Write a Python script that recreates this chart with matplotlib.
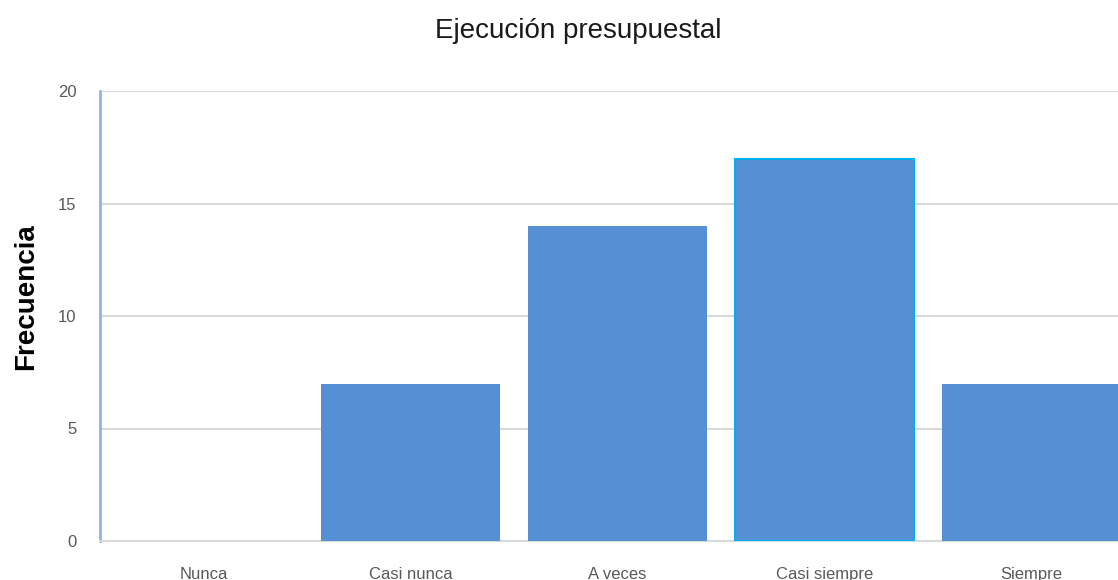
import matplotlib.pyplot as plt

categorias = ["Nunca", "Casi nunca", "A veces", "Casi siempre", "Siempre"]
frecuencias = [0, 7, 14, 17, 7]
yticks = [0, 5, 10, 15, 20]

plt.rcParams['font.family'] = ['Liberation Sans', 'DejaVu Sans']

fig = plt.figure(figsize=(11.18, 5.8), dpi=100)
# the plot area runs past the right edge of the canvas
ax = fig.add_axes([100 / 1118, 39 / 580, 1035 / 1118, 450 / 580])

x = range(len(categorias))
bars = ax.bar(x, frecuencias, width=0.865, color="#5690D4", zorder=3)
# selected bar keeps its highlight outline
bars[3].set_edgecolor("#00B0F0")
bars[3].set_linewidth(1.5)

ax.set_xlim(-0.5, len(categorias) - 0.5)
ax.set_ylim(0, 20)
ax.set_yticks(yticks)
ax.set_xticks(list(x))
ax.set_xticklabels(categorias)
ax.yaxis.grid(True, color="#D9D9D9", linewidth=1.5, zorder=0)
ax.set_axisbelow(True)

ax.tick_params(axis="both", length=0, colors="#595959")
ax.tick_params(axis="y", pad=17, labelsize=12)
ax.tick_params(axis="x", pad=19, labelsize=12)

for side in ["top", "right"]:
    ax.spines[side].set_visible(False)
ax.spines["left"].set_color("#8FB4E3")
ax.spines["left"].set_linewidth(2)
ax.spines["bottom"].set_color("#D9D9D9")
ax.spines["bottom"].set_linewidth(1.5)

ax.set_ylabel("Frecuencia", fontsize=20, fontweight="bold", color="#000000")
ax.yaxis.set_label_coords(-0.059, 0.542)

fig.text(578 / 1118, 1 - 31 / 580, "Ejecución presupuestal", fontsize=20,
         color="#1a1a1a", ha="center", va="center")

fig.savefig("out.png", dpi=100)
